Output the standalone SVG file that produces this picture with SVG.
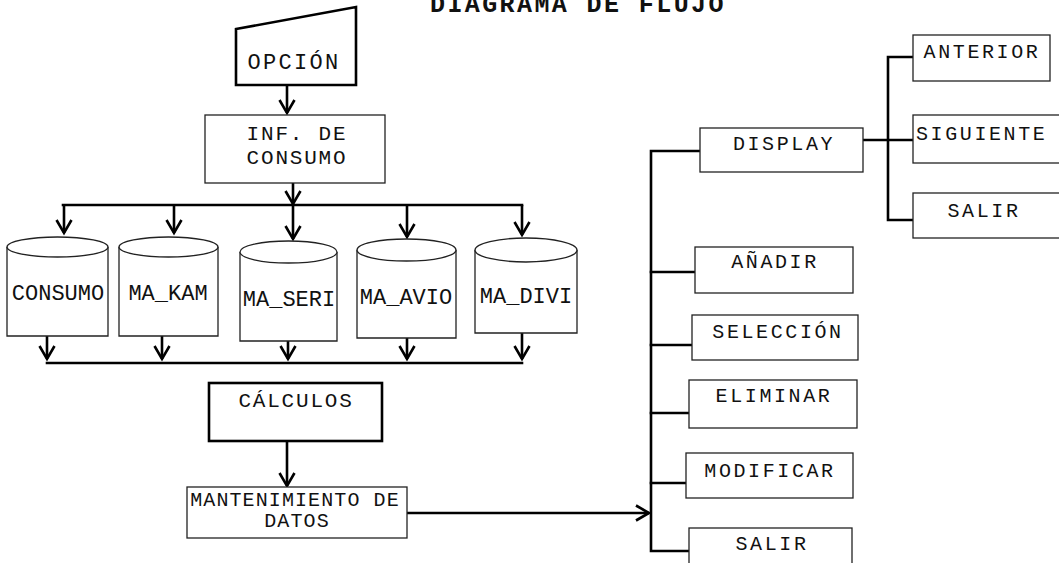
<svg xmlns="http://www.w3.org/2000/svg" width="1059" height="563" viewBox="0 0 1059 563">
<defs>
<style>
.t{font-family:"Liberation Mono","Courier New",monospace;fill:#111;}
.lbl{font-size:20px;letter-spacing:2.6px;text-anchor:middle;}
.cyl{font-size:22px;text-anchor:middle;}
.mid{font-size:21px;letter-spacing:1.8px;text-anchor:middle;}
.box{fill:#fff;stroke:#222;stroke-width:1.3;}
.thick{fill:#fff;stroke:#000;stroke-width:2.6;}
.ln{fill:none;stroke:#000;stroke-width:2.6;stroke-linecap:square;}
.arr{fill:none;stroke:#000;stroke-width:2.6;marker-end:url(#ah);}
</style>
<marker id="ah" markerUnits="userSpaceOnUse" viewBox="-16 -10 20 20" refX="0" refY="0" markerWidth="20" markerHeight="20" orient="auto" overflow="visible">
<path d="M-13,-7.5 L0,0 L-13,7.5" fill="none" stroke="#000" stroke-width="2.6"/>
</marker>
</defs>
<rect width="1059" height="563" fill="#fff"/>

<text class="t" x="430" y="12" style="font-size:25px;font-weight:bold;letter-spacing:2.4px">DIAGRAMA DE FLUJO</text>

<g id="connectors">
<line class="arr" x1="287" y1="85" x2="287" y2="113"/>
<line class="arr" x1="293" y1="183" x2="293" y2="204"/>
<line class="ln" x1="63" y1="205" x2="522" y2="205"/>
<line class="arr" x1="64" y1="205" x2="64" y2="233"/>
<line class="arr" x1="174" y1="205" x2="174" y2="233"/>
<line class="arr" x1="293" y1="205" x2="293" y2="239"/>
<line class="arr" x1="407" y1="205" x2="407" y2="237"/>
<line class="arr" x1="522" y1="205" x2="522" y2="235"/>
<line class="arr" x1="47" y1="336" x2="47" y2="359"/>
<line class="arr" x1="162" y1="336" x2="162" y2="359"/>
<line class="arr" x1="288" y1="341" x2="288" y2="359"/>
<line class="arr" x1="407" y1="338" x2="407" y2="359"/>
<line class="arr" x1="522" y1="333" x2="522" y2="359"/>
<line class="ln" x1="47" y1="363" x2="522" y2="363"/>
<line class="arr" x1="287" y1="441" x2="287" y2="486"/>
<line class="arr" x1="407" y1="513" x2="649" y2="513"/>
<polyline class="ln" points="700,151 651,151 651,551 689,551"/>
<line class="ln" x1="651" y1="272" x2="695" y2="272"/>
<line class="ln" x1="651" y1="345" x2="692" y2="345"/>
<line class="ln" x1="651" y1="413" x2="689" y2="413"/>
<line class="ln" x1="651" y1="483" x2="686" y2="483"/>
<line class="ln" x1="863" y1="140" x2="913" y2="140"/>
<polyline class="ln" points="913,57 888,57 888,220 913,220"/>
</g>

<g id="opcion">
<polygon class="thick" points="236,29 356,7 356,85 236,85"/>
<text class="t" x="294" y="69" style="font-size:22px;letter-spacing:2.3px;text-anchor:middle">OPCIÓN</text>
</g>
<g id="inf-consumo">
<rect class="box" x="205" y="115" width="180" height="68"/>
<text class="t mid" x="297" y="140">INF. DE</text>
<text class="t mid" x="297" y="164">CONSUMO</text>
</g>

<g id="db-consumo">
<path class="box" d="M7,247 V336 H108 V247"/>
<ellipse class="box" cx="57.5" cy="247" rx="50.5" ry="10"/>
<text class="t cyl" x="58" y="300">CONSUMO</text>
</g>
<g id="db-ma-kam">
<path class="box" d="M119,247 V336 H218 V247"/>
<ellipse class="box" cx="168.5" cy="247" rx="49.5" ry="10"/>
<text class="t cyl" x="168" y="300">MA_KAM</text>
</g>
<g id="db-ma-seri">
<path class="box" d="M240,252 V341 H337 V252"/>
<ellipse class="box" cx="288.5" cy="252" rx="48.5" ry="11"/>
<text class="t cyl" x="289" y="306">MA_SERI</text>
</g>
<g id="db-ma-avio">
<path class="box" d="M357,250 V338 H456 V250"/>
<ellipse class="box" cx="406.5" cy="250" rx="49.5" ry="11"/>
<text class="t cyl" x="406" y="304">MA_AVIO</text>
</g>
<g id="db-ma-divi">
<path class="box" d="M475,250 V333 H577 V250"/>
<ellipse class="box" cx="526" cy="250" rx="51" ry="12"/>
<text class="t cyl" x="526" y="303">MA_DIVI</text>
</g>

<g id="calculos">
<rect class="thick" x="209" y="383" width="173" height="58"/>
<text class="t mid" x="296" y="407">CÁLCULOS</text>
</g>
<g id="mantenimiento">
<rect class="box" x="187" y="487" width="220" height="51"/>
<text class="t" x="295" y="506" style="font-size:20px;letter-spacing:1.1px;text-anchor:middle">MANTENIMIENTO DE</text>
<text class="t" x="297" y="527" style="font-size:20px;letter-spacing:1.1px;text-anchor:middle">DATOS</text>
</g>

<g id="display">
<rect class="box" x="700" y="128" width="163" height="44"/>
<text class="t lbl" x="784" y="150">DISPLAY</text>
</g>
<g id="anterior">
<rect class="box" x="913" y="35" width="137" height="46"/>
<text class="t lbl" x="982" y="58">ANTERIOR</text>
</g>
<g id="siguiente">
<rect class="box" x="913" y="115" width="160" height="48"/>
<text class="t" x="916" y="140" style="font-size:20px;letter-spacing:2.6px">SIGUIENTE</text>
</g>
<g id="salir-display">
<rect class="box" x="913" y="193" width="160" height="45"/>
<text class="t lbl" x="984" y="217">SALIR</text>
</g>
<g id="anadir">
<rect class="box" x="695" y="247" width="158" height="46"/>
<text class="t lbl" x="775" y="268">AÑADIR</text>
</g>
<g id="seleccion">
<rect class="box" x="692" y="315" width="166" height="45"/>
<text class="t lbl" x="778" y="338">SELECCIÓN</text>
</g>
<g id="eliminar">
<rect class="box" x="689" y="380" width="168" height="48"/>
<text class="t lbl" x="774" y="402">ELIMINAR</text>
</g>
<g id="modificar">
<rect class="box" x="686" y="453" width="167" height="45"/>
<text class="t lbl" x="770" y="477">MODIFICAR</text>
</g>
<g id="salir">
<rect class="box" x="689" y="528" width="163" height="50"/>
<text class="t lbl" x="772" y="550">SALIR</text>
</g>
</svg>
